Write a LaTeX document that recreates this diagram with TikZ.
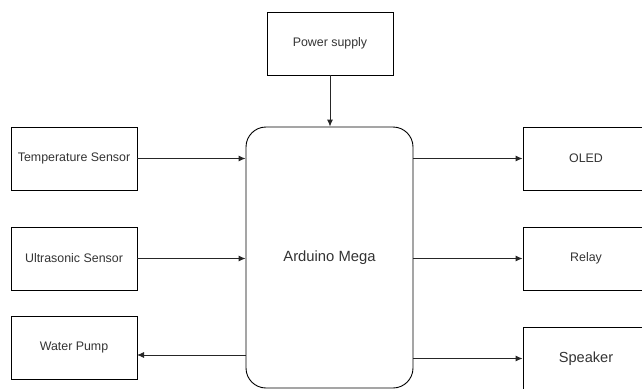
\documentclass[tikz,border=0pt]{standalone}
\usepackage{fontspec}
\setmainfont{Liberation Sans}
\usetikzlibrary{arrows.meta}
\begin{document}
\begin{tikzpicture}[x=1pt,y=-1pt,
  box/.style={draw=black, line width=0.9pt, minimum width=126pt, minimum height=63pt, inner sep=0pt, text=black!80, font=\fontsize{12.4}{14}\selectfont},
  bigbox/.style={box, minimum width=167pt, minimum height=261pt, rounded corners=20pt, font=\fontsize{14.8}{17}\selectfont},
  arr/.style={draw=black!85, line width=0.9pt, -{Latex[length=7pt,width=6pt]}}]
\useasboundingbox (0,0) rectangle (642,388);
\node[box] (ps) at (330,43.5) {Power supply};
\node[box] (temp) at (74,158.5) {Temperature Sensor};
\node[box] (ultra) at (74,258.5) {Ultrasonic Sensor};
\node[box] (water) at (74,347.5) {Water Pump};
\node[bigbox] (ard) at (329.5,257.5) {Arduino Mega};
\node[box] (oled) at (586,158.5) {OLED};
\node[box] (relay) at (586,258.5) {Relay};
\node[box, font=\fontsize{14.6}{17}\selectfont] (spk) at (586,358.5) {Speaker};
\coordinate (wp) at (137,355);
\draw[arr] (ps.south) -- (ps.south |- ard.north);
\draw[arr] (temp.east) -- (temp.east -| ard.west);
\draw[arr] (ultra.east) -- (ultra.east -| ard.west);
\draw[arr] (wp -| ard.west) -- (wp);
\draw[arr] (oled.west -| ard.east) -- (oled.west);
\draw[arr] (relay.west -| ard.east) -- (relay.west);
\draw[arr] (spk.west -| ard.east) -- (spk.west);
\end{tikzpicture}
\end{document}
